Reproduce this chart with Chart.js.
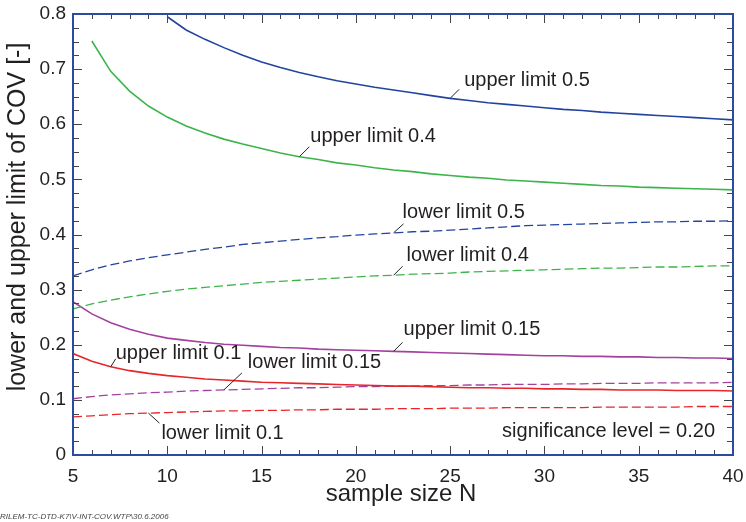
<!DOCTYPE html>
<html>
<head>
<meta charset="utf-8">
<script src="https://cdn.jsdelivr.net/npm/chart.js@4.4.1/dist/chart.umd.min.js"></script>
<style>
html,body{margin:0;padding:0;background:#fff;}
#wrap{width:746px;height:522px;position:relative;}
</style>
</head>
<body>
<div id="wrap"><canvas id="c"></canvas></div>
<script>
// ---------- data ----------
const sampleSize = [5,6,7,8,9,10,11,12,13,14,15,16,17,18,19,20,21,22,23,24,25,26,27,28,29,30,31,32,33,34,35,36,37,38,39,40];

const upper050 = [null,null,null,null,null,0.795,0.771,0.754,0.739,0.725,0.713,0.703,0.694,0.686,0.679,0.673,0.667,0.662,0.657,0.652,0.647,0.643,0.639,0.636,0.633,0.630,0.627,0.625,0.622,0.620,0.618,0.616,0.614,0.612,0.610,0.608];
const upper040 = [null,0.751,0.696,0.660,0.633,0.613,0.597,0.584,0.573,0.564,0.556,0.548,0.541,0.536,0.530,0.526,0.521,0.517,0.514,0.510,0.507,0.504,0.502,0.499,0.497,0.495,0.493,0.491,0.489,0.488,0.486,0.485,0.484,0.483,0.482,0.481];
const lower050 = [0.325,0.336,0.345,0.352,0.358,0.363,0.368,0.373,0.377,0.382,0.385,0.388,0.391,0.394,0.396,0.399,0.401,0.403,0.405,0.406,0.408,0.410,0.412,0.414,0.416,0.417,0.418,0.419,0.420,0.421,0.422,0.423,0.423,0.424,0.424,0.425];
const lower040 = [0.265,0.274,0.281,0.287,0.292,0.297,0.301,0.304,0.307,0.310,0.313,0.315,0.317,0.319,0.321,0.323,0.325,0.326,0.328,0.329,0.330,0.332,0.333,0.334,0.335,0.336,0.337,0.338,0.339,0.339,0.340,0.341,0.341,0.342,0.343,0.343];
const upper015 = [0.278,0.256,0.240,0.228,0.219,0.212,0.208,0.204,0.201,0.199,0.197,0.195,0.194,0.192,0.191,0.190,0.189,0.188,0.187,0.186,0.185,0.184,0.183,0.182,0.181,0.180,0.180,0.179,0.179,0.178,0.178,0.177,0.177,0.176,0.176,0.175];
const upper010 = [0.184,0.170,0.160,0.153,0.148,0.144,0.141,0.138,0.136,0.134,0.132,0.131,0.130,0.129,0.128,0.127,0.126,0.125,0.125,0.124,0.123,0.122,0.122,0.121,0.121,0.120,0.120,0.119,0.119,0.118,0.118,0.118,0.117,0.117,0.117,0.116];
const lower015 = [0.102,0.106,0.109,0.111,0.113,0.114,0.116,0.117,0.118,0.119,0.120,0.121,0.122,0.122,0.123,0.124,0.124,0.125,0.125,0.126,0.126,0.127,0.127,0.128,0.128,0.128,0.129,0.129,0.130,0.130,0.130,0.131,0.131,0.131,0.131,0.132];
const lower010 = [0.069,0.071,0.073,0.075,0.076,0.077,0.078,0.079,0.080,0.080,0.081,0.081,0.082,0.082,0.083,0.083,0.083,0.084,0.084,0.084,0.085,0.085,0.085,0.086,0.086,0.086,0.086,0.086,0.087,0.087,0.087,0.087,0.087,0.088,0.088,0.088];

const xTickLabels = ['5','10','15','20','25','30','35','40'];
const yTickLabels = ['0','0.1','0.2','0.3','0.4','0.5','0.6','0.7','0.8'];

const xTitle = 'sample size N';
const yTitle = 'lower and upper limit of COV [-]';
const noteText = 'significance level = 0.20';
const footText = 'RILEM-TC-DTD-K7\\V-INT-COV.WTP\\30.6.2006';

// ---------- styling ----------
const FONT = "'Liberation Sans', Arial, Helvetica, sans-serif";
const TXT = '#231f20';
const BLUE = '#2343a0', GREEN = '#3cb44a', PURPLE = '#a4409e', RED = '#e8262a';
const FRAME = '#2b4c9c';

function series(label, values, color, dashed) {
  return {
    label,
    data: sampleSize.map((n, i) => ({x: n, y: values[i]})),
    borderColor: color,
    backgroundColor: color,
    borderWidth: dashed ? 1.3 : 1.6,
    borderDash: dashed ? [9, 4] : [],
    pointRadius: 0,
    fill: false,
    tension: 0,
    spanGaps: false
  };
}

const datasets = [
  series('upper limit 0.5', upper050, BLUE, false),
  series('upper limit 0.4', upper040, GREEN, false),
  series('lower limit 0.5', lower050, BLUE, true),
  series('lower limit 0.4', lower040, GREEN, true),
  series('upper limit 0.15', upper015, PURPLE, false),
  series('upper limit 0.1', upper010, RED, false),
  series('lower limit 0.15', lower015, PURPLE, true),
  series('lower limit 0.1', lower010, RED, true)
];

// curve labels: anchor sample size on the series, leader end offset, text offset (px)
const curveLabels = [
  {ds: 0, n: 25, lx: 9,  ly: -9,  tx: 14, ty: -18},
  {ds: 1, n: 17, lx: 10, ly: -10, tx: 11, ty: -20},
  {ds: 2, n: 22, lx: 10, ly: -9,  tx: 9,  ty: -20},
  {ds: 3, n: 22, lx: 9,  ly: -9,  tx: 13, ty: -20},
  {ds: 4, n: 22, lx: 9,  ly: -9,  tx: 10, ty: -22},
  {ds: 5, n: 7,  lx: 5,  ly: -8,  tx: 5,  ty: -13},
  {ds: 6, n: 13, lx: 18, ly: -17, tx: 24, ty: -27},
  {ds: 7, n: 9,  lx: 11, ly: 10,  tx: 13, ty: 20}
];

const framePlugin = {
  id: 'frame',
  afterDatasetsDraw(chart) {
    const {ctx, chartArea: a, scales: {x, y}} = chart;
    ctx.save();
    // inward ticks
    ctx.strokeStyle = '#444';
    ctx.lineWidth = 1;
    ctx.beginPath();
    for (let n = 5; n <= 40; n++) {
      const px = Math.round(x.getPixelForValue(n)) + 0.5;
      const len = (n % 5 === 0) ? 9 : 5;
      ctx.moveTo(px, a.bottom); ctx.lineTo(px, a.bottom - len);
      ctx.moveTo(px, a.top); ctx.lineTo(px, a.top + len);
    }
    for (let k = 0; k <= 32; k++) {
      const v = k * 0.025;
      const py = Math.round(y.getPixelForValue(v)) + 0.5;
      const len = (k % 4 === 0) ? 9 : 6;
      ctx.moveTo(a.left, py); ctx.lineTo(a.left + len, py);
      ctx.moveTo(a.right, py); ctx.lineTo(a.right - len, py);
    }
    ctx.stroke();
    // frame
    ctx.strokeStyle = FRAME;
    ctx.lineWidth = 2;
    ctx.strokeRect(a.left, a.top, a.right - a.left, a.bottom - a.top);

    // curve labels with leader lines
    ctx.font = '20px ' + FONT;
    ctx.fillStyle = TXT;
    ctx.textBaseline = 'middle';
    ctx.textAlign = 'left';
    curveLabels.forEach(L => {
      const ds = chart.data.datasets[L.ds];
      const pt = ds.data.find(d => d.x === L.n);
      const px = x.getPixelForValue(pt.x), py = y.getPixelForValue(pt.y);
      ctx.strokeStyle = '#222';
      ctx.lineWidth = 1;
      ctx.beginPath();
      ctx.moveTo(px, py); ctx.lineTo(px + L.lx, py + L.ly);
      ctx.stroke();
      ctx.fillText(ds.label, px + L.tx, py + L.ty);
    });

    // significance note
    ctx.textAlign = 'right';
    ctx.fillText(noteText, a.right - 18, a.bottom - 24);

    // axis titles
    ctx.font = '24px ' + FONT;
    ctx.textAlign = 'center';
    ctx.fillText(xTitle, (a.left + a.right) / 2 - 2, a.bottom + 39);
    ctx.save();
    ctx.font = '25px ' + FONT;
    ctx.translate(18, 217);
    ctx.rotate(-Math.PI / 2);
    ctx.fillText(yTitle, 0, 0);
    ctx.restore();

    // footer
    ctx.font = 'italic 8px ' + FONT;
    ctx.fillStyle = '#444';
    ctx.textAlign = 'left';
    ctx.fillText(footText, 0, 517);
    ctx.restore();
  }
};

new Chart(document.getElementById('c'), {
  type: 'line',
  data: {datasets},
  options: {
    responsive: true,
    maintainAspectRatio: false,
    animation: false,
    devicePixelRatio: 1,
    layout: {padding: {left: 0, right: 13, top: 14, bottom: 0}},
    plugins: {legend: {display: false}, tooltip: {enabled: false}},
    scales: {
      x: {
        type: 'linear', min: 5, max: 40,
        grid: {display: false, drawTicks: false},
        border: {display: false},
        ticks: {
          stepSize: 5, padding: 10, color: TXT,
          font: {family: FONT, size: 19},
          maxRotation: 0,
          callback: (v) => { const i = xTickLabels.indexOf(String(v)); return i >= 0 ? xTickLabels[i] : ''; }
        },
        afterFit: s => { s.height = 67; s.paddingLeft = 0; s.paddingRight = 0; }
      },
      y: {
        type: 'linear', min: 0, max: 0.8,
        grid: {display: false, drawTicks: false},
        border: {display: false},
        ticks: {
          stepSize: 0.1, padding: 7, color: TXT,
          font: {family: FONT, size: 19},
          callback: (v) => yTickLabels[Math.round(v * 10)]
        },
        afterFit: s => { s.width = 73; s.paddingTop = 0; s.paddingBottom = 0; }
      }
    }
  },
  plugins: [framePlugin]
});
</script>
</body>
</html>
